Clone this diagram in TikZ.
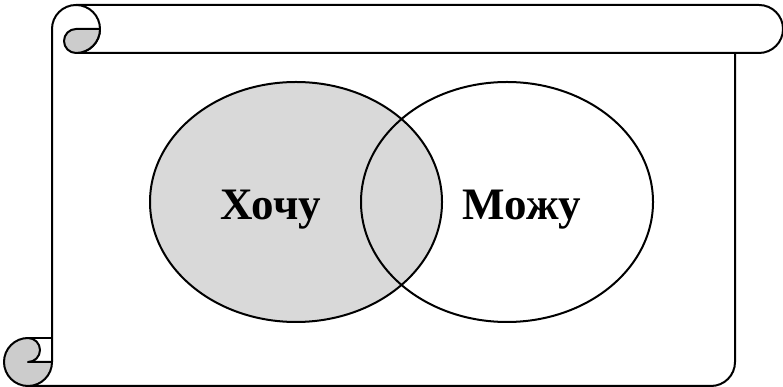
\documentclass[tikz,border=0pt]{standalone}
\usepackage{fontspec}
\setmainfont{Liberation Serif}
\definecolor{venngray}{HTML}{D9D9D9}
\definecolor{curlgray}{HTML}{CCCCCC}
\begin{document}
\begin{tikzpicture}[x=1pt,y=1pt,line width=2pt,
  outline/.style={draw=black,line join=round},
  lbl/.style={font=\fontsize{45}{50}\selectfont\bfseries,anchor=base,inner sep=0pt}]
\useasboundingbox (0,0) rectangle (783,387);
% scroll body
\fill[white] (52,25) rectangle (735,358);
% top band
\draw[outline] (76,382) -- (759,382) arc[start angle=90,end angle=-90,radius=24] -- (76,334);
% top-left roll
\draw[outline] (52,25) -- (52,358) arc[start angle=180,end angle=-90,radius=24];
\filldraw[outline,fill=curlgray] (76,358) -- (100,358) arc[start angle=0,end angle=-90,radius=24]
   arc[start angle=-90,end angle=-270,radius=12] -- cycle;
% right side and bottom
\draw[outline] (735,334) -- (735,25) arc[start angle=0,end angle=-90,radius=24] -- (28,1);
% bottom-left roll
\filldraw[outline,fill=curlgray] (28,49) arc[start angle=90,end angle=360,radius=24] -- (28,25)
   arc[start angle=-90,end angle=90,radius=12] -- cycle;
\draw[outline] (28,49) -- (52,49);
% Venn ellipses
\filldraw[outline,fill=venngray] (296,185) ellipse[x radius=146,y radius=120];
\draw[outline] (507,185) ellipse[x radius=146,y radius=120];
\node[lbl] (want) at (271,167) {Хочу};
\node[lbl] (can) at (522,167) {Можу};
\end{tikzpicture}
\end{document}
